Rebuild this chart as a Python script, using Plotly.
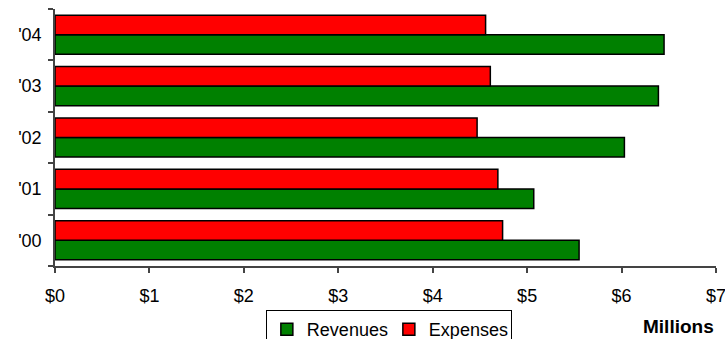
import plotly.graph_objects as go

# Fiscal years, bottom to top
years = ["'00", "'01", "'02", "'03", "'04"]
# Values in millions of dollars
revenues = [5.55, 5.07, 6.03, 6.39, 6.45]
expenses = [4.74, 4.69, 4.47, 4.61, 4.56]
x_ticks = [0, 1, 2, 3, 4, 5, 6, 7]
x_tick_labels = ["$0", "$1", "$2", "$3", "$4", "$5", "$6", "$7"]

FONT = "Liberation Sans, Arial, sans-serif"
AXIS = "#444444"

fig = go.Figure()
fig.add_trace(go.Bar(
    name="Revenues", y=years, x=revenues, orientation="h",
    marker=dict(color="#008000", line=dict(color="black", width=1.5)),
))
fig.add_trace(go.Bar(
    name="Expenses", y=years, x=expenses, orientation="h",
    marker=dict(color="#ff0000", line=dict(color="black", width=1.5)),
))

fig.update_layout(
    width=725, height=339,
    margin=dict(l=55, r=9, t=9, b=73, autoexpand=False),
    paper_bgcolor="white", plot_bgcolor="white",
    font=dict(family=FONT, size=18, color="black"),
    barmode="group", bargap=0.24, bargroupgap=0,
    showlegend=True,
    legend=dict(
        orientation="h", x=0.319, xanchor="left", y=-0.171, yanchor="top",
        bordercolor="black", borderwidth=1, bgcolor="white",
        font=dict(family=FONT, size=18, color="black"),
        traceorder="normal", itemwidth=30,
        entrywidth=77, entrywidthmode="pixels",
    ),
    xaxis=dict(
        range=[0, 7], tickvals=x_ticks, ticktext=x_tick_labels,
        showgrid=False, zeroline=False,
        showline=True, linecolor=AXIS, linewidth=1.5,
        ticks="outside", ticklen=5, tickcolor=AXIS, tickwidth=1.5,
        ticklabelstandoff=8, ticklabeloverflow="allow",
    ),
    yaxis=dict(
        type="category", categoryorder="array", categoryarray=years,
        showgrid=False, zeroline=False,
        showline=True, linecolor=AXIS, linewidth=1.5,
        ticks="outside", ticklen=5, tickcolor=AXIS, tickwidth=1.5,
        tickson="boundaries", ticklabelstandoff=8,
    ),
    annotations=[dict(
        text="<b>Millions</b>", xref="paper", yref="paper",
        x=1, xanchor="right", y=-0.237, yanchor="middle",
        showarrow=False, font=dict(family=FONT, size=19, color="black"),
    )],
)

fig.write_html("out.html")
